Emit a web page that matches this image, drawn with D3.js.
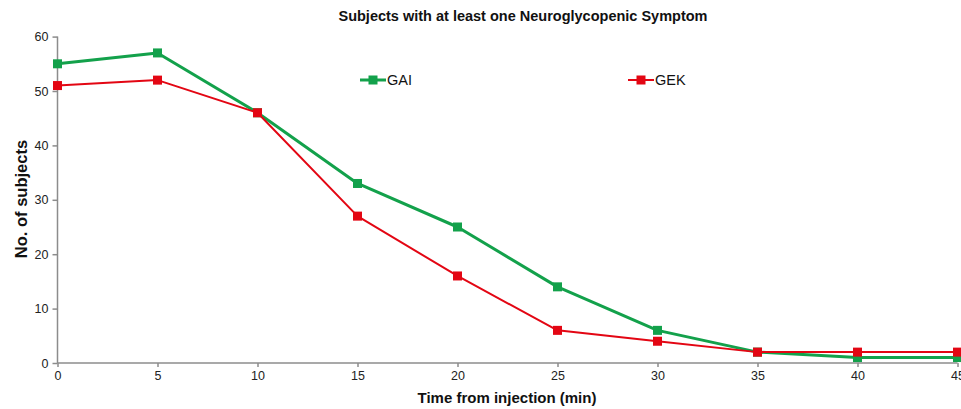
<!DOCTYPE html>
<html>
<head>
<meta charset="utf-8">
<script src="https://cdn.jsdelivr.net/npm/d3@7"></script>
<style>
  body { margin: 0; background: #fff; }
  svg { display: block; font-family: "Liberation Sans", Arial, sans-serif; }
  .axis path, .axis line { stroke: #8c8c8c; stroke-width: 1.5; }
  .axis text { font-size: 12.5px; fill: #222; }
  .title, .axis-label { font-weight: bold; fill: #111; }
</style>
</head>
<body>
<script>
//// DATA
var times = [0, 5, 10, 15, 20, 25, 30, 35, 40, 45];
var gai = [55, 57, 46, 33, 25, 14, 6, 2, 1, 1];
var gek = [51, 52, 46, 27, 16, 6, 4, 2, 2, 2];
var xTicks = [0, 5, 10, 15, 20, 25, 30, 35, 40, 45];
var yTicks = [0, 10, 20, 30, 40, 50, 60];

var series = [
  {name: "GAI", values: gai, color: "#13a14b", width: 3, legendX: 360},
  {name: "GEK", values: gek, color: "#e30613", width: 2, legendX: 628}
];

//// DIMENSIONS
var W = 961, H = 409;
var margin = {top: 36.6, right: 4, bottom: 46, left: 57.5},
    width = 957.5 - margin.left,
    height = 363 - margin.top;

var xScale = d3.scaleLinear().domain([0, 45]).range([0, width]);
var yScale = d3.scaleLinear().domain([0, 60]).range([height, 0]);

var svg = d3.select("body").append("svg")
    .attr("width", W)
    .attr("height", H);

var g = svg.append("g")
    .attr("transform", "translate(" + margin.left + "," + margin.top + ")");

// Title
svg.append("text")
    .attr("class", "title")
    .attr("x", 523)
    .attr("y", 21)
    .attr("text-anchor", "middle")
    .style("font-size", "14.5px")
    .text("Subjects with at least one Neuroglycopenic Symptom");

// Axes
g.append("g")
    .attr("class", "axis y")
    .call(d3.axisLeft(yScale).tickValues(yTicks).tickSize(5).tickPadding(4).tickSizeOuter(0))
    .call(function(s) { s.select(".domain").attr("d", "M0,0V" + height); });

g.append("g")
    .attr("class", "axis x")
    .attr("transform", "translate(0," + height + ")")
    .call(d3.axisBottom(xScale).tickValues(xTicks).tickSize(4).tickPadding(4).tickSizeOuter(0))
    .call(function(s) { s.select(".domain").attr("d", "M0,0H" + width); });

// Axis labels
svg.append("text")
    .attr("class", "axis-label")
    .attr("x", 507)
    .attr("y", 403)
    .attr("text-anchor", "middle")
    .style("font-size", "15px")
    .text("Time from injection (min)");

svg.append("text")
    .attr("class", "axis-label")
    .attr("transform", "translate(26.5,199) rotate(-90)")
    .attr("text-anchor", "middle")
    .style("font-size", "16.5px")
    .text("No. of subjects");

// Lines
var line = d3.line()
    .x(function(d, i) { return xScale(times[i]); })
    .y(function(d) { return yScale(d); });

series.forEach(function(s) {
  g.append("path")
      .datum(s.values)
      .attr("fill", "none")
      .attr("stroke", s.color)
      .attr("stroke-width", s.width)
      .attr("stroke-linejoin", "round")
      .attr("d", line);
});

series.forEach(function(s) {
  g.selectAll(".dot-" + s.name)
      .data(s.values)
    .enter().append("rect")
      .attr("class", "dot-" + s.name)
      .attr("x", function(d, i) { return xScale(times[i]) - 4.5; })
      .attr("y", function(d) { return yScale(d) - 4.5; })
      .attr("width", 9)
      .attr("height", 9)
      .attr("fill", s.color);
});

// Legend
series.forEach(function(s) {
  var lg = svg.append("g").attr("transform", "translate(" + s.legendX + ",80)");
  lg.append("line")
      .attr("x1", 0).attr("x2", 26)
      .attr("stroke", s.color)
      .attr("stroke-width", s.width);
  lg.append("rect")
      .attr("x", 8.5).attr("y", -4.5)
      .attr("width", 9).attr("height", 9)
      .attr("fill", s.color);
  lg.append("text")
      .attr("x", 27)
      .attr("y", 5)
      .style("font-size", "14.5px")
      .style("fill", "#111")
      .text(s.name);
});
</script>
</body>
</html>
